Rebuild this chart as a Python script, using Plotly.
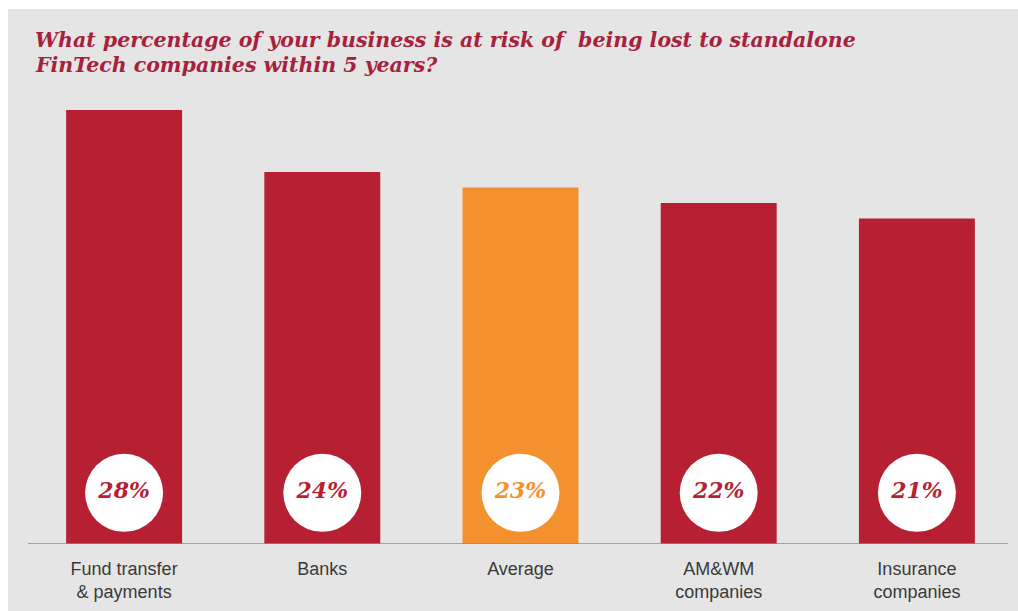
import plotly.graph_objects as go

# Survey results: share of business at risk from standalone FinTech firms (%)
categories = ["Fund transfer<br>& payments", "Banks", "Average", "AM&WM<br>companies", "Insurance<br>companies"]
values = [28, 24, 23, 22, 21]
labels = ["28%", "24%", "23%", "22%", "21%"]

RED = "#b71f33"
ORANGE = "#f2912d"
bar_colors = [ORANGE if c == "Average" else RED for c in categories]
text_colors = [ORANGE if c == "Average" else RED for c in categories]

W, H = 1018, 611
ML, MR, MT, MB = 25, 2, 79, 67
PW = W - ML - MR
PH = H - MT - MB
Y_MAX = 30
BADGE_Y = 3.3  # vertical position of the value badges, in axis units


def px_x(p):
    return (p - ML) / PW


def px_y(p):
    return (H - MB - p) / PH


x = list(range(len(categories)))

fig = go.Figure()
fig.add_trace(go.Bar(
    x=x, y=values, width=0.585,
    marker=dict(color=bar_colors, line=dict(width=0)),
    hoverinfo="skip",
))
fig.add_trace(go.Scatter(
    x=x, y=[BADGE_Y] * len(x), mode="markers+text",
    marker=dict(size=78, color="white", line=dict(width=0)),
    text=labels, textposition="middle center",
    textfont=dict(family="DejaVu Serif", size=22, color=text_colors,
                  weight="bold", style="italic"),
    hoverinfo="skip",
))

title_font = dict(family="DejaVu Serif", size=20.5, color="#a8213c",
                  weight="bold", style="italic")
fig.add_annotation(text="What percentage of your business is at risk of  being lost to standalone",
                   xref="paper", yref="paper", x=px_x(33), y=px_y(40),
                   xanchor="left", yanchor="middle", showarrow=False, font=title_font)
fig.add_annotation(text="FinTech companies within 5 years?",
                   xref="paper", yref="paper", x=px_x(33), y=px_y(65.5),
                   xanchor="left", yanchor="middle", showarrow=False, font=title_font)

# grey panel with a thin white border on the top and left
fig.add_shape(type="rect", xref="paper", yref="paper",
              x0=px_x(8), x1=px_x(W + 2), y0=px_y(H + 2), y1=px_y(9),
              fillcolor="#e5e5e5", line=dict(width=0), layer="below")
# baseline
fig.add_shape(type="line", xref="paper", yref="y",
              x0=px_x(28), x1=px_x(1008), y0=0, y1=0,
              line=dict(color="#8c8c8c", width=1.5))

fig.update_layout(
    width=W, height=H,
    margin=dict(l=ML, r=MR, t=MT, b=MB),
    paper_bgcolor="white", plot_bgcolor="rgba(0,0,0,0)",
    showlegend=False,
    xaxis=dict(range=[-0.5, len(categories) - 0.5], tickvals=x, ticktext=categories,
               showgrid=False, zeroline=False, showline=False, ticks="",
               ticklabelstandoff=12,
               tickfont=dict(family="Liberation Sans", size=18, color="#3a3a3a")),
    yaxis=dict(range=[0, Y_MAX], visible=False),
)

fig.write_html("out.html")
